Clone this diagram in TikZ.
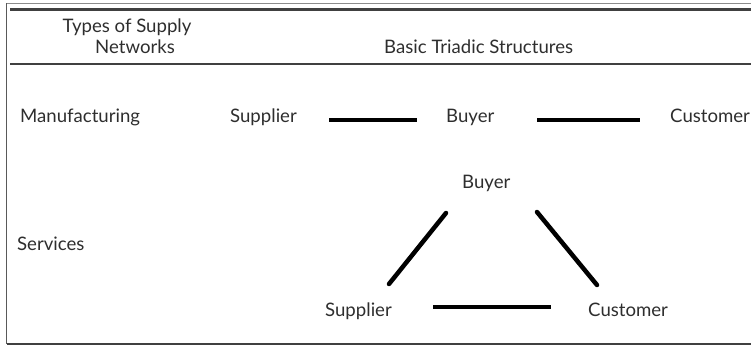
\documentclass[tikz,border=0pt]{standalone}
\usepackage{fontspec}
\setmainfont{Lato}
\begin{document}
\begin{tikzpicture}[x=1pt,y=-1pt,
  lbl/.style={inner sep=0pt,anchor=base west,font=\fontsize{18.6}{21}\selectfont,text=black!82},
  hdr/.style={inner sep=0pt,anchor=base,font=\fontsize{18.6}{21}\selectfont,text=black!82},
  rulethick/.style={line width=2.6pt,draw=black!75},
  rulethin/.style={line width=1pt,draw=black!45},
  link/.style={line width=4.5pt,draw=black}]
\useasboundingbox (0,0) rectangle (751,347);
% frame
\draw[rulethin] (6,4) -- (751,4);
\draw[line width=1.5pt,draw=black!65] (6.5,3.5) -- (6.5,344);
\draw[rulethick] (10,9.5) -- (751,9.5);
\draw[rulethick] (10,64) -- (751,64);
\draw[rulethick] (7,344) -- (751,344);
% header
\node[hdr] (h1) at (127,33) {Types of Supply};
\node[hdr] (h2) at (135,54) {Networks};
\node[lbl] (h3) at (384,54) {Basic Triadic Structures};
% rows
\node[lbl] (r1) at (20,123) {Manufacturing};
\node[lbl] (r2) at (17,250) {Services};
% manufacturing
\node[lbl] (ms) at (230,123) {Supplier};
\node[lbl] (mb) at (446,123) {Buyer};
\node[lbl] (mc) at (670,123) {Customer};
\coordinate (m1a) at (329,120); \coordinate (m1b) at (417,120);
\coordinate (m2a) at (537,120); \coordinate (m2b) at (640,120);
\draw[link] (m1a) -- (m1b);
\draw[link] (m2a) -- (m2b);
% services
\node[lbl] (sb) at (462,189) {Buyer};
\node[lbl] (ss) at (325,316) {Supplier};
\node[lbl] (sc) at (588,316) {Customer};
\coordinate (d1a) at (446,213); \coordinate (d1b) at (389,284);
\coordinate (d2a) at (537,212); \coordinate (d2b) at (597,285);
\coordinate (d3a) at (433,307); \coordinate (d3b) at (551,307);
\draw[link,line cap=round] (d1a) -- (d1b);
\draw[link,line cap=round] (d2a) -- (d2b);
\draw[link] (d3a) -- (d3b);
\end{tikzpicture}
\end{document}
